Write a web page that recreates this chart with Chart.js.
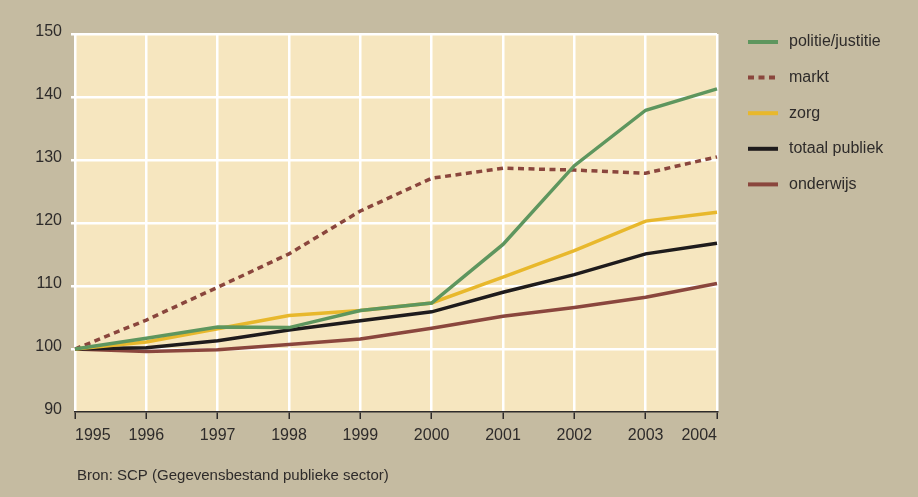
<!DOCTYPE html>
<html>
<head>
<meta charset="utf-8">
<script src="https://cdn.jsdelivr.net/npm/chart.js@4/dist/chart.umd.min.js"></script>
<style>
  html, body { margin: 0; padding: 0; background: #c5bba1; }
  #wrap { width: 918px; height: 497px; }
</style>
</head>
<body>
<div id="wrap"><canvas id="mychart" width="918" height="497"></canvas></div>
<script>
const years = ['1995', '1996', '1997', '1998', '1999', '2000', '2001', '2002', '2003', '2004'];
const politieJustitie = [100, 101.7, 103.5, 103.4, 106.1, 107.3, 116.6, 129.1, 137.9, 141.3];
const markt = [100, 104.6, 109.8, 115.1, 121.9, 127.1, 128.7, 128.4, 127.9, 130.5];
const zorg = [100, 101.1, 103.2, 105.3, 106.1, 107.3, 111.4, 115.6, 120.3, 121.7];
const totaalPubliek = [100, 100.2, 101.3, 103.0, 104.5, 105.9, 109.0, 111.8, 115.1, 116.8];
const onderwijs = [100, 99.6, 99.9, 100.7, 101.6, 103.3, 105.2, 106.6, 108.2, 110.4];
const yTicks = [90, 100, 110, 120, 130, 140, 150];
const sourceText = 'Bron: SCP (Gegevensbestand publieke sector)';

const textColor = '#2e2b2a';
const fontName = "'Liberation Sans', Arial, sans-serif";

// plot background + legend + source line
const decor = {
  id: 'decor',
  beforeDraw(chart) {
    const c = chart.ctx, a = chart.chartArea;
    c.save();
    c.fillStyle = '#c5bba1';
    c.fillRect(0, 0, chart.width, chart.height);
    c.fillStyle = '#f6e6bf';
    c.fillRect(a.left, a.top, a.right - a.left, a.bottom - a.top);
    c.restore();
  },
  afterDraw(chart) {
    const c = chart.ctx;
    c.save();
    c.font = '16px ' + fontName;
    c.textBaseline = 'middle';
    chart.data.datasets.forEach((ds, i) => {
      const y = 42 + i * 35.6;
      c.strokeStyle = ds.borderColor;
      c.lineWidth = 4;
      c.setLineDash(ds.borderDash || []);
      c.beginPath();
      c.moveTo(748, y);
      c.lineTo(778, y);
      c.stroke();
      c.setLineDash([]);
      c.fillStyle = textColor;
      c.fillText(ds.label, 789, y);
    });
    c.font = '15px ' + fontName;
    c.textBaseline = 'alphabetic';
    c.fillText(sourceText, 77, 480);
    c.restore();
  }
};

const ctx = document.getElementById('mychart').getContext('2d');
let mychart = new Chart(ctx, {
  type: 'line',
  data: {
    labels: years,
    datasets: [
      { label: 'politie/justitie', data: politieJustitie, borderColor: '#5e965e' },
      { label: 'markt', data: markt, borderColor: '#8a463d', borderDash: [6, 4.5] },
      { label: 'zorg', data: zorg, borderColor: '#e8b82c' },
      { label: 'totaal publiek', data: totaalPubliek, borderColor: '#1e1b1c' },
      { label: 'onderwijs', data: onderwijs, borderColor: '#8a463d' }
    ]
  },
  options: {
    responsive: false,
    animation: false,
    layout: { padding: { left: 0, right: 201, top: 34, bottom: 40 } },
    elements: {
      line: { borderWidth: 3.5, tension: 0, fill: false },
      point: { radius: 0 }
    },
    plugins: {
      legend: { display: false },
      tooltip: { enabled: false }
    },
    scales: {
      x: {
        offset: false,
        afterFit: s => { s.height = 45; },
        grid: {
          color: '#ffffff', lineWidth: 2.5,
          tickColor: '#2e2b2a', tickLength: 7, tickWidth: 1.5
        },
        border: { color: '#2e2b2a', width: 1.5 },
        ticks: { align: 'inner', padding: 7, color: textColor, font: { family: fontName, size: 16 }, maxRotation: 0 }
      },
      y: {
        min: 90, max: 150,
        afterFit: s => { s.width = 75; },
        afterBuildTicks: s => { s.ticks = yTicks.map(v => ({ value: v })); },
        grid: {
          color: c => c.tick && c.tick.value === 90 ? 'rgba(0,0,0,0)' : '#ffffff',
          lineWidth: 2.5, tickLength: 4
        },
        border: { display: false },
        ticks: { padding: 9, labelOffset: -2, color: textColor, font: { family: fontName, size: 16 } }
      }
    }
  },
  plugins: [decor]
});
</script>
</body>
</html>
